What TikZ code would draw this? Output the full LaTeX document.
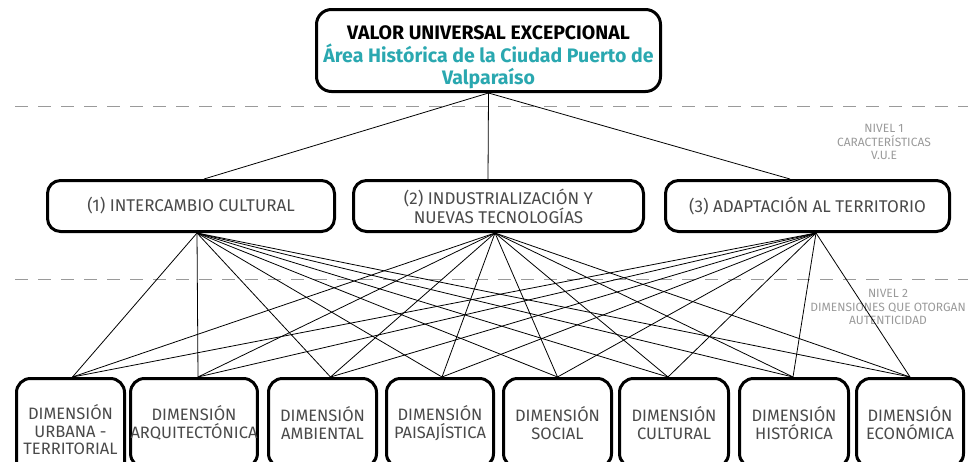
\documentclass[tikz,border=0pt]{standalone}
\usepackage{fontspec}
\setmainfont{Fira Sans}
\definecolor{txtgray}{HTML}{4A4A4A}
\definecolor{lvlgray}{HTML}{9A9A9A}
\definecolor{vueteal}{HTML}{2AA8B0}

\begin{document}
\begin{tikzpicture}[x=1pt,y=-1pt,
  vuebox/.style={draw, line width=3pt, rounded corners=15pt, fill=white,
    minimum width=344pt, minimum height=82pt, inner sep=0pt, align=center,
    font=\bfseries\fontsize{19.5}{22.5}\selectfont},
  featbox/.style={draw, line width=3pt, rounded corners=13pt, fill=white,
    minimum height=51pt, inner sep=0pt, align=center, text=txtgray,
    font=\fontsize{17}{19}\selectfont},
  dimbox/.style={draw, line width=3pt, rounded corners=14pt, fill=white,
    anchor=north, minimum height=89pt, inner sep=0pt, align=center, text=txtgray,
    font=\fontsize{16.5}{17.5}\selectfont},
  levelline/.style={lvlgray, line width=1pt, dash pattern=on 13pt off 10pt},
  leveltxt/.style={text=lvlgray, align=center, font=\fontsize{12}{13.5}\selectfont},
  link/.style={black, line width=0.8pt}]
\useasboundingbox (0,0) rectangle (968,461);
\clip (0,0) rectangle (968,461);

\draw [levelline] (15,106) -- (968,106);
\draw [levelline] (15,279) -- (968,279);

\node [leveltxt] (lvl1) at (884,142) {NIVEL 1\\CARACTERÍSTICAS\\V.U.E};
\node [leveltxt] (lvl2) at (888,307) {NIVEL 2\\DIMENSIONES QUE OTORGAN\\AUTENTICIDAD};

\node [vuebox] (vue) at (488.5,50.5) {\rule{0pt}{27.5pt}VALOR UNIVERSAL EXCEPCIONAL\\
  \color{vueteal}Área Histórica de la Ciudad Puerto de\\
  \color{vueteal}Valparaíso};

\node [featbox, minimum width=287pt] (c1) at (191,206) {(1) INTERCAMBIO CULTURAL};
\node [featbox, minimum width=290pt] (c2) at (498.5,206) {(2) INDUSTRIALIZACIÓN Y\\NUEVAS TECNOLOGÍAS};
\node [featbox, minimum width=284pt] (c3) at (807.5,206) {(3) ADAPTACIÓN AL TERRITORIO};

\node [dimbox, minimum width=108pt, minimum height=103pt] (d1) at (70.5,377) {DIMENSIÓN\\URBANA -\\TERRITORIAL};
\node [dimbox, minimum width=125pt] (d2) at (194,377) {DIMENSIÓN\\ARQUITECTÓNICA};
\node [dimbox, minimum width=108pt] (d3) at (322.5,377) {DIMENSIÓN\\AMBIENTAL};
\node [dimbox, minimum width=107pt] (d4) at (440,377) {DIMENSIÓN\\PAISAJÍSTICA};
\node [dimbox, minimum width=108pt] (d5) at (557.5,377) {DIMENSIÓN\\SOCIAL};
\node [dimbox, minimum width=109pt] (d6) at (674,377) {DIMENSIÓN\\CULTURAL};
\node [dimbox, minimum width=109pt] (d7) at (794,377) {DIMENSIÓN\\HISTÓRICA};
\node [dimbox, minimum width=107pt] (d8) at (910,377) {DIMENSIÓN\\ECONÓMICA};

\draw [link] (vue.south) -- ([xshift=13pt]c1.north);
\draw [link] (vue.south) -- ([xshift=-10.5pt]c2.north);
\draw [link] (vue.south) -- ([xshift=-17.5pt]c3.north);

% every characteristic reaches every dimension
\foreach \c/\cs in {c1/6, c2/-3.5, c3/8.5}
  \foreach \d/\ds in {d1/2, d2/4, d3/8, d4/2, d5/0, d6/-6, d7/-1, d8/0}
    \draw [link] ([xshift=\cs pt]\c.south) -- ([xshift=\ds pt]\d.north);
\end{tikzpicture}
\end{document}
